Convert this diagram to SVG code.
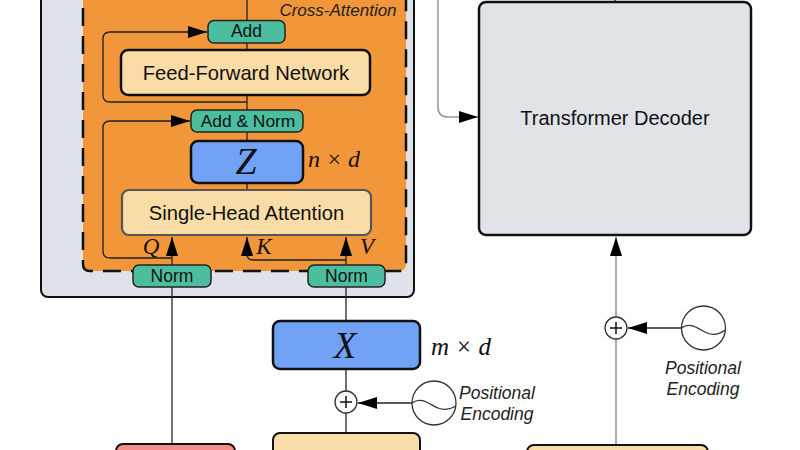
<svg xmlns="http://www.w3.org/2000/svg" width="800" height="450" viewBox="0 0 800 450">
<style>
text{font-family:"Liberation Sans",Arial,sans-serif;fill:#111;text-anchor:middle}
.b{stroke:#111;stroke-width:2.5}
.t{fill:#4dbd9f;stroke:#222;stroke-width:1.5}
.y{fill:#f9dca6}
.u{fill:#72a2f5}
.l{fill:none;stroke:#222;stroke-width:1.3}
.g{fill:none;stroke:#999;stroke-width:1.6}
.m{font-family:"Liberation Serif",serif;font-style:italic}
.i{font-style:italic;font-size:17.500px;fill:#222}
.c{fill:#fff;stroke:#333;stroke-width:1.3}
</style>
<defs>
<marker id="a" markerUnits="userSpaceOnUse" markerWidth="20" markerHeight="14" refX="19" refY="6.500" orient="auto"><path d="M0 0.500L19 6.500L0 12.500z" fill="#000"/></marker>
</defs>
<rect width="800" height="450" fill="#fff"/>
<g id="encoder-box"><rect x="41" y="-20" width="373" height="317" rx="7" fill="#dfe2e8" stroke="#111" stroke-width="2"/></g>
<g id="cross-attention-box">
<path d="M83-20V264Q83 271 90 271H399Q406 271 406 264V-20z" fill="#f2963a"/>
<path d="M83-20V264Q83 271 90 271H399Q406 271 406 264V-20" fill="none" stroke="#111" stroke-width="2.500" stroke-dasharray="18 10"/>
<text class="i" x="338" y="15.500" style="font-size:17px">Cross-Attention</text>
</g>
<g id="connectors">
<path class="l" d="M247 0V190"/>
<path class="l" d="M247 102H110Q103 102 103 95V39Q103 32 110 32H207" marker-end="url(#a)"/>
<path class="l" d="M172 258H110Q103 258 103 251V128Q103 121 110 121H190" marker-end="url(#a)"/>
<path class="l" d="M172 265V237" marker-end="url(#a)"/>
<path class="l" d="M346 260H253Q247 260 247 254V237" marker-end="url(#a)"/>
<path class="l" d="M346 265V237" marker-end="url(#a)"/>
<path class="l" d="M172 287V450"/>
<path class="l" d="M346 287V321"/>
<path class="l" d="M346 369V433"/>
<path class="l" d="M412 403H358" marker-end="url(#a)"/>
<path class="l" d="M615 0V3"/>
<path class="g" d="M438 0V107Q438 117 448 117H478" marker-end="url(#a)"/>
<path class="g" d="M616 445V237" marker-end="url(#a)"/>
<path class="l" d="M681 328H628" marker-end="url(#a)"/>
</g>
<g id="add"><rect class="t" x="208" y="20.500" width="77" height="22.500" rx="6"/><text x="246.500" y="37" font-size="17.500">Add</text></g>
<g id="ffn"><rect class="y b" x="121" y="50" width="249" height="45" rx="7"/><text x="246" y="80" font-size="20.200">Feed-Forward Network</text></g>
<g id="add-norm"><rect class="t" x="191" y="110" width="112" height="22" rx="6"/><text x="248" y="126.500" font-size="17.400">Add &amp; Norm</text></g>
<g id="z"><rect class="u b" x="191" y="141" width="112" height="42" rx="7"/><text class="m" x="246" y="174" font-size="38">Z</text><text class="m" x="334" y="167" font-size="24" fill="#222">n × d</text></g>
<g id="sha"><rect class="y" x="122" y="190" width="249" height="45" rx="7" stroke="#555" stroke-width="2.200"/><text x="246.500" y="219.500" font-size="20.200">Single-Head Attention</text></g>
<g id="labels"><text class="m" x="151" y="254" font-size="23">Q</text><text class="m" x="264" y="254" font-size="23">K</text><text class="m" x="367" y="254" font-size="23">V</text></g>
<g id="norm-1"><rect class="t" x="133" y="265" width="78" height="22" rx="6"/><text x="172" y="281.500" font-size="17.500">Norm</text></g>
<g id="norm-2"><rect class="t" x="308" y="265" width="77" height="22" rx="6"/><text x="346.500" y="281.500" font-size="17.500">Norm</text></g>
<g id="x"><rect class="u b" x="273" y="321" width="147" height="48" rx="7"/><text class="m" x="345" y="358" font-size="37">X</text><text class="m" x="461" y="355" font-size="25" fill="#222">m × d</text></g>
<g id="add-1"><circle class="c" cx="346" cy="402" r="11"/><path d="M340 402H352M346 396V408" stroke="#111" stroke-width="1.500"/></g>
<g id="pe-1"><circle cx="434" cy="403" r="22" fill="#fff" stroke="#333" stroke-width="1.300"/><path d="M412 403C422 396 430 405 438 408C446 411 451 409 456 406" fill="none" stroke="#333" stroke-width="1.300"/><text class="i" x="497" y="399">Positional</text><text class="i" x="497" y="420">Encoding</text></g>
<g id="embed-1"><rect x="116" y="444" width="119" height="20" rx="7" fill="#f58d8a" stroke="#111" stroke-width="2"/></g>
<g id="embed-2"><rect class="y" x="273" y="433" width="147" height="30" rx="7" stroke="#111" stroke-width="2"/></g>
<g id="embed-3"><rect class="y" x="527" y="445" width="181" height="20" rx="7" stroke="#111" stroke-width="2"/></g>
<g id="decoder"><rect x="479" y="2" width="272" height="233" rx="7" fill="#e0e3e8" class="b"/><text x="615" y="124.500" font-size="20">Transformer Decoder</text></g>
<g id="add-2"><circle class="c" cx="616" cy="328" r="11"/><path d="M610 328H622M616 322V334" stroke="#111" stroke-width="1.500"/></g>
<g id="pe-2"><circle cx="703.500" cy="328" r="22" fill="#fff" stroke="#333" stroke-width="1.300"/><path d="M681.500 328C691 321 699 330 707 333C715 336 720 334 725 330" fill="none" stroke="#333" stroke-width="1.300"/><text class="i" x="703" y="374">Positional</text><text class="i" x="703" y="395">Encoding</text></g>
</svg>
